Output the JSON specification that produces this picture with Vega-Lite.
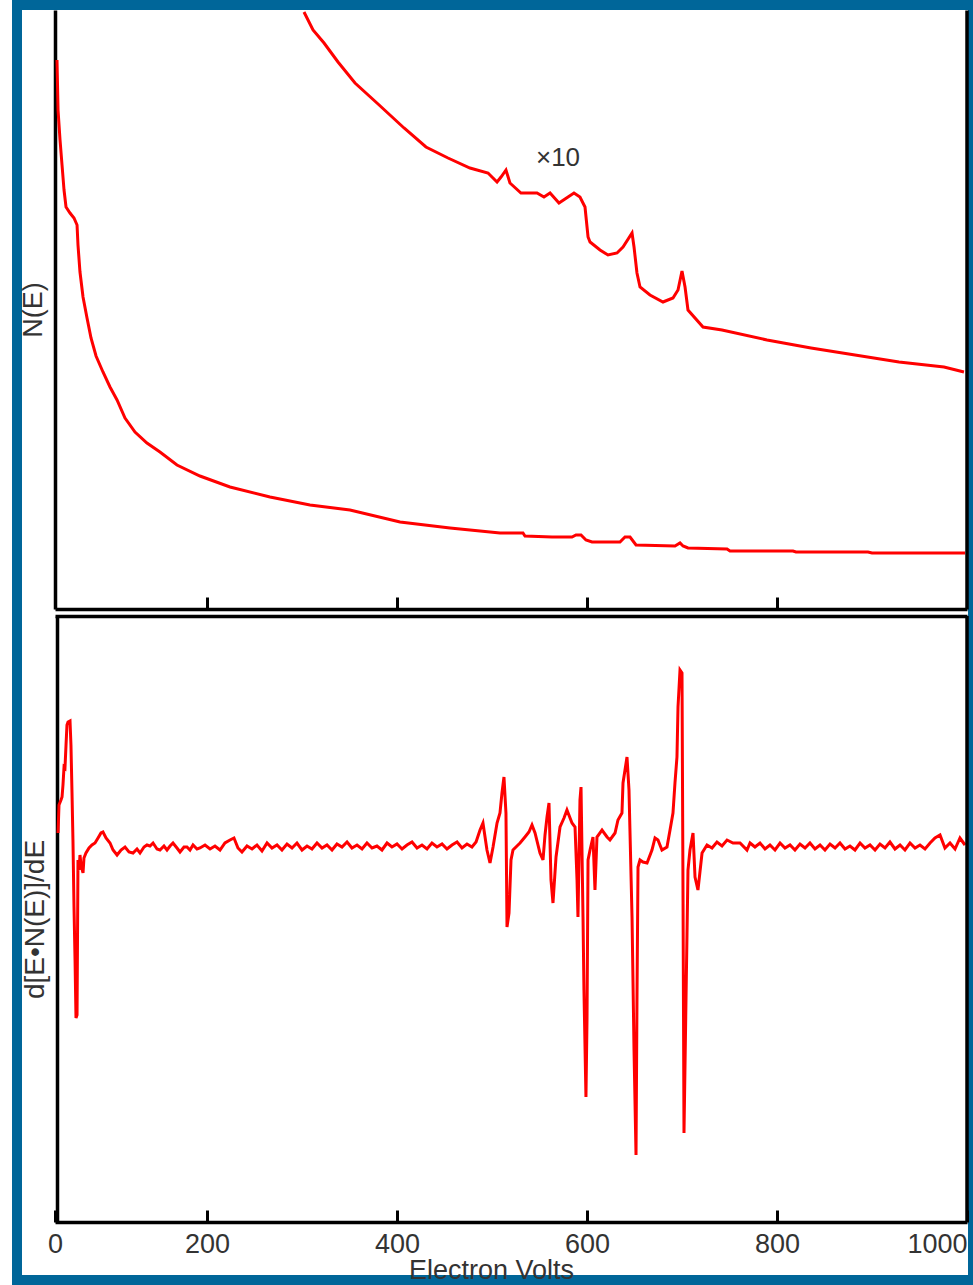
{
  "$schema": "https://vega.github.io/schema/vega-lite/v6.json",
  "width": 956,
  "height": 1275,
  "autosize": {"type": "none"},
  "padding": {"left": 17, "top": 5, "right": 0, "bottom": 5},
  "background": "white",
  "config": {
    "view": {"stroke": "#006699", "strokeWidth": 10, "fill": "white"},
    "axis": {
      "grid": false,
      "domainColor": "black",
      "domainWidth": 3.5,
      "tickColor": "black",
      "tickWidth": 3,
      "labelFont": "Liberation Sans",
      "labelFontSize": 27,
      "labelColor": "#333333",
      "titleFont": "Liberation Sans",
      "titleFontSize": 27,
      "titleColor": "#333333",
      "titleFontWeight": "normal"
    }
  },
  "datasets": {
    "ne": [
      {"e": 42.1, "n": 549}, {"e": 43.2, "n": 499}, {"e": 45.3, "n": 469}, {"e": 47.4, "n": 444},
      {"e": 49.5, "n": 419}, {"e": 51.6, "n": 402}, {"e": 55.8, "n": 396}, {"e": 60.0, "n": 391},
      {"e": 63.2, "n": 384}, {"e": 64.2, "n": 364}, {"e": 66.3, "n": 337}, {"e": 69.5, "n": 312},
      {"e": 73.7, "n": 291}, {"e": 77.9, "n": 271}, {"e": 83.2, "n": 253}, {"e": 90.5, "n": 237},
      {"e": 97.9, "n": 222}, {"e": 105.3, "n": 209}, {"e": 113.7, "n": 191}, {"e": 124.2, "n": 177},
      {"e": 136.8, "n": 166}, {"e": 150.5, "n": 157}, {"e": 168.4, "n": 144}, {"e": 192.6, "n": 133},
      {"e": 224.2, "n": 122}, {"e": 266.3, "n": 112}, {"e": 308.4, "n": 104}, {"e": 350.5, "n": 99},
      {"e": 403.2, "n": 87}, {"e": 455.8, "n": 81}, {"e": 508.4, "n": 76}, {"e": 532.6, "n": 76},
      {"e": 534.7, "n": 73}, {"e": 563.2, "n": 72}, {"e": 584.2, "n": 72}, {"e": 588.4, "n": 74},
      {"e": 593.7, "n": 74}, {"e": 598.9, "n": 69}, {"e": 605.3, "n": 67}, {"e": 634.7, "n": 67},
      {"e": 640.0, "n": 72}, {"e": 645.3, "n": 72}, {"e": 651.6, "n": 64}, {"e": 692.6, "n": 63},
      {"e": 697.9, "n": 66}, {"e": 701.1, "n": 63}, {"e": 706.3, "n": 61}, {"e": 747.4, "n": 60},
      {"e": 750.5, "n": 58}, {"e": 816.8, "n": 58}, {"e": 820.0, "n": 57}, {"e": 895.8, "n": 57},
      {"e": 900.0, "n": 56}, {"e": 997.9, "n": 56}
    ],
    "ne10": [
      {"e": 302.1, "n": 597}, {"e": 311.6, "n": 579}, {"e": 323.2, "n": 566}, {"e": 337.9, "n": 547},
      {"e": 355.8, "n": 526}, {"e": 378.9, "n": 506}, {"e": 407.4, "n": 481}, {"e": 430.5, "n": 462},
      {"e": 453.7, "n": 451}, {"e": 476.8, "n": 441}, {"e": 495.8, "n": 436}, {"e": 505.3, "n": 427},
      {"e": 509.5, "n": 432}, {"e": 514.7, "n": 439}, {"e": 518.9, "n": 426}, {"e": 530.5, "n": 416},
      {"e": 547.4, "n": 416}, {"e": 554.7, "n": 412}, {"e": 561.1, "n": 416}, {"e": 570.5, "n": 406},
      {"e": 586.3, "n": 416}, {"e": 592.6, "n": 412}, {"e": 597.9, "n": 402}, {"e": 601.1, "n": 372},
      {"e": 603.2, "n": 367}, {"e": 613.7, "n": 359}, {"e": 622.1, "n": 354}, {"e": 631.6, "n": 356},
      {"e": 637.9, "n": 362}, {"e": 647.4, "n": 376}, {"e": 649.5, "n": 362}, {"e": 652.6, "n": 336},
      {"e": 655.8, "n": 322}, {"e": 666.3, "n": 314}, {"e": 680.0, "n": 307}, {"e": 690.5, "n": 311},
      {"e": 695.8, "n": 319}, {"e": 700.0, "n": 338}, {"e": 703.2, "n": 322}, {"e": 706.3, "n": 299},
      {"e": 722.1, "n": 282}, {"e": 742.1, "n": 279}, {"e": 789.5, "n": 269}, {"e": 835.8, "n": 261},
      {"e": 882.1, "n": 254}, {"e": 928.4, "n": 247}, {"e": 975.8, "n": 242}, {"e": 996.8, "n": 237}
    ],
    "deriv": [
      {"e": 43.2, "d": 12}, {"e": 44.2, "d": 40}, {"e": 46.3, "d": 45}, {"e": 47.4, "d": 48},
      {"e": 48.4, "d": 60}, {"e": 49.5, "d": 78}, {"e": 50.5, "d": 77}, {"e": 51.6, "d": 100},
      {"e": 52.6, "d": 120}, {"e": 53.7, "d": 123}, {"e": 55.8, "d": 124}, {"e": 56.8, "d": 100},
      {"e": 57.9, "d": 52}, {"e": 58.9, "d": 5}, {"e": 60.0, "d": -62}, {"e": 61.1, "d": -115},
      {"e": 62.1, "d": -173}, {"e": 63.2, "d": -170}, {"e": 64.2, "d": -15}, {"e": 65.3, "d": -25},
      {"e": 66.3, "d": -10}, {"e": 67.4, "d": -20}, {"e": 69.5, "d": -28}, {"e": 70.5, "d": -13},
      {"e": 72.6, "d": -8}, {"e": 75.8, "d": -3}, {"e": 78.9, "d": 0}, {"e": 82.1, "d": 2},
      {"e": 85.3, "d": 7}, {"e": 88.4, "d": 12}, {"e": 90.5, "d": 13}, {"e": 93.7, "d": 7},
      {"e": 97.9, "d": 2}, {"e": 101.1, "d": -5}, {"e": 105.3, "d": -10}, {"e": 109.5, "d": -5},
      {"e": 113.7, "d": -2}, {"e": 117.9, "d": -7}, {"e": 122.1, "d": -8}, {"e": 126.3, "d": -4},
      {"e": 129.5, "d": -8}, {"e": 133.7, "d": -2}, {"e": 136.8, "d": 0}, {"e": 140.0, "d": -1},
      {"e": 143.2, "d": 2}, {"e": 147.4, "d": -4}, {"e": 150.5, "d": -5}, {"e": 154.7, "d": -1},
      {"e": 157.9, "d": -5}, {"e": 161.1, "d": -1}, {"e": 164.2, "d": 2}, {"e": 168.4, "d": -3},
      {"e": 171.6, "d": -7}, {"e": 175.8, "d": -2}, {"e": 178.9, "d": -2}, {"e": 182.1, "d": -5},
      {"e": 185.3, "d": 0}, {"e": 189.5, "d": -4}, {"e": 192.6, "d": -3}, {"e": 197.9, "d": 0},
      {"e": 203.2, "d": -4}, {"e": 208.4, "d": -1}, {"e": 213.7, "d": -5}, {"e": 218.9, "d": 2},
      {"e": 224.2, "d": 5}, {"e": 228.4, "d": 7}, {"e": 232.6, "d": -3}, {"e": 236.8, "d": -7},
      {"e": 242.1, "d": -1}, {"e": 247.4, "d": -4}, {"e": 252.6, "d": 0}, {"e": 257.9, "d": -6},
      {"e": 263.2, "d": 2}, {"e": 268.4, "d": -3}, {"e": 273.7, "d": 0}, {"e": 278.9, "d": -5},
      {"e": 284.2, "d": 1}, {"e": 289.5, "d": -3}, {"e": 294.7, "d": 2}, {"e": 300.0, "d": -5},
      {"e": 305.3, "d": -1}, {"e": 310.5, "d": -4}, {"e": 315.8, "d": 2}, {"e": 321.1, "d": -3},
      {"e": 326.3, "d": 0}, {"e": 331.6, "d": -5}, {"e": 336.8, "d": 1}, {"e": 342.1, "d": -2},
      {"e": 347.4, "d": 3}, {"e": 352.6, "d": -3}, {"e": 357.9, "d": 0}, {"e": 363.2, "d": -4},
      {"e": 368.4, "d": 2}, {"e": 373.7, "d": -3}, {"e": 378.9, "d": -1}, {"e": 384.2, "d": -5},
      {"e": 389.5, "d": 2}, {"e": 394.7, "d": -2}, {"e": 400.0, "d": 1}, {"e": 405.3, "d": -4},
      {"e": 410.5, "d": 0}, {"e": 415.8, "d": 3}, {"e": 421.1, "d": -3}, {"e": 426.3, "d": 0},
      {"e": 431.6, "d": -4}, {"e": 436.8, "d": 2}, {"e": 442.1, "d": -2}, {"e": 447.4, "d": 1},
      {"e": 452.6, "d": -4}, {"e": 457.9, "d": 0}, {"e": 463.2, "d": 3}, {"e": 468.4, "d": -3},
      {"e": 473.7, "d": 1}, {"e": 478.9, "d": -2}, {"e": 483.2, "d": 3}, {"e": 487.4, "d": 15},
      {"e": 490.5, "d": 22}, {"e": 494.7, "d": -5}, {"e": 497.9, "d": -18}, {"e": 501.1, "d": -2},
      {"e": 505.3, "d": 22}, {"e": 508.4, "d": 32}, {"e": 510.5, "d": 52}, {"e": 512.6, "d": 68},
      {"e": 514.7, "d": 32}, {"e": 515.8, "d": -82}, {"e": 517.9, "d": -68}, {"e": 520.0, "d": -15},
      {"e": 522.1, "d": -5}, {"e": 526.3, "d": -1}, {"e": 529.5, "d": 2}, {"e": 534.7, "d": 8},
      {"e": 538.9, "d": 13}, {"e": 542.1, "d": 20}, {"e": 545.3, "d": 12}, {"e": 550.5, "d": -8},
      {"e": 553.7, "d": -15}, {"e": 555.8, "d": 10}, {"e": 557.9, "d": 28}, {"e": 560.0, "d": 42},
      {"e": 562.1, "d": -35}, {"e": 564.2, "d": -58}, {"e": 567.4, "d": -12}, {"e": 571.6, "d": 18},
      {"e": 575.8, "d": 27}, {"e": 578.9, "d": 35}, {"e": 584.2, "d": 22}, {"e": 587.4, "d": 18},
      {"e": 589.5, "d": -35}, {"e": 590.5, "d": -72}, {"e": 592.6, "d": 45}, {"e": 593.7, "d": 58},
      {"e": 595.8, "d": -72}, {"e": 596.8, "d": -145}, {"e": 598.9, "d": -252}, {"e": 600.0, "d": -175},
      {"e": 601.1, "d": -15}, {"e": 603.2, "d": -5}, {"e": 606.3, "d": 8}, {"e": 608.4, "d": -45},
      {"e": 610.5, "d": 8}, {"e": 615.8, "d": 15}, {"e": 621.1, "d": 8}, {"e": 624.2, "d": 5},
      {"e": 629.5, "d": 12}, {"e": 632.6, "d": 25}, {"e": 636.8, "d": 32}, {"e": 637.9, "d": 62},
      {"e": 642.1, "d": 88}, {"e": 644.2, "d": 55}, {"e": 647.4, "d": -72}, {"e": 649.5, "d": -205},
      {"e": 651.6, "d": -310}, {"e": 652.6, "d": -155}, {"e": 653.7, "d": -22}, {"e": 655.8, "d": -15},
      {"e": 658.9, "d": -17}, {"e": 663.2, "d": -18}, {"e": 668.4, "d": -5}, {"e": 671.6, "d": 7},
      {"e": 674.7, "d": 5}, {"e": 678.9, "d": -5}, {"e": 684.2, "d": -2}, {"e": 687.4, "d": 15},
      {"e": 690.5, "d": 32}, {"e": 692.6, "d": 62}, {"e": 694.7, "d": 88}, {"e": 695.8, "d": 138},
      {"e": 697.9, "d": 175}, {"e": 700.0, "d": 172}, {"e": 701.1, "d": -55}, {"e": 702.1, "d": -288},
      {"e": 704.2, "d": -155}, {"e": 706.3, "d": -25}, {"e": 708.4, "d": -5}, {"e": 711.6, "d": 12},
      {"e": 713.7, "d": -32}, {"e": 716.8, "d": -45}, {"e": 721.1, "d": -8}, {"e": 726.3, "d": 0},
      {"e": 731.6, "d": -3}, {"e": 736.8, "d": 3}, {"e": 742.1, "d": -1}, {"e": 747.4, "d": 5},
      {"e": 753.7, "d": 2}, {"e": 761.1, "d": 2}, {"e": 768.4, "d": -5}, {"e": 771.6, "d": 2},
      {"e": 776.8, "d": -2}, {"e": 782.1, "d": 2}, {"e": 787.4, "d": -4}, {"e": 792.6, "d": 0},
      {"e": 797.9, "d": -5}, {"e": 803.2, "d": 2}, {"e": 808.4, "d": -3}, {"e": 813.7, "d": 0},
      {"e": 818.9, "d": -5}, {"e": 824.2, "d": 1}, {"e": 829.5, "d": -3}, {"e": 834.7, "d": 2},
      {"e": 840.0, "d": -4}, {"e": 845.3, "d": 0}, {"e": 850.5, "d": -5}, {"e": 855.8, "d": 1},
      {"e": 861.1, "d": -3}, {"e": 866.3, "d": 2}, {"e": 871.6, "d": -4}, {"e": 876.8, "d": -1},
      {"e": 882.1, "d": -5}, {"e": 887.4, "d": 2}, {"e": 892.6, "d": -3}, {"e": 897.9, "d": 0},
      {"e": 903.2, "d": -5}, {"e": 908.4, "d": 1}, {"e": 913.7, "d": -3}, {"e": 918.9, "d": 3},
      {"e": 924.2, "d": -4}, {"e": 929.5, "d": 0}, {"e": 934.7, "d": -5}, {"e": 940.0, "d": 2},
      {"e": 945.3, "d": -3}, {"e": 950.5, "d": 0}, {"e": 955.8, "d": -4}, {"e": 961.1, "d": 2},
      {"e": 966.3, "d": 7}, {"e": 971.6, "d": 10}, {"e": 976.8, "d": -3}, {"e": 982.1, "d": 2},
      {"e": 987.4, "d": -4}, {"e": 992.6, "d": 7}, {"e": 997.9, "d": 0}
    ]
  },
  "resolve": {
    "scale": {"y": "independent"},
    "axis": {"x": "independent", "y": "independent"}
  },
  "layer": [
    {
      "data": {"name": "ne"},
      "mark": {"type": "line", "color": "#ff0000", "strokeWidth": 3},
      "encoding": {
        "x": {
          "field": "e", "type": "quantitative",
          "scale": {"domain": [40, 1000], "range": [38, 950], "nice": false, "zero": false},
          "axis": {"orient": "bottom", "offset": -671, "values": [200, 400, 600, 800], "labels": false, "tickSize": -12, "title": null}
        },
        "y": {
          "field": "n", "type": "quantitative",
          "scale": {"domain": [0, 599], "range": [604, 5], "nice": false, "zero": false},
          "axis": {"orient": "left", "offset": -38, "ticks": false, "labels": false, "title": "N(E)", "titlePadding": 8}
        }
      }
    },
    {
      "data": {"name": "ne10"},
      "mark": {"type": "line", "color": "#ff0000", "strokeWidth": 3},
      "encoding": {
        "x": {
          "field": "e", "type": "quantitative",
          "scale": {"domain": [40, 1000], "range": [38, 950], "nice": false, "zero": false},
          "axis": {"orient": "top", "offset": -611, "ticks": false, "labels": false, "title": null}
        },
        "y": {
          "field": "n", "type": "quantitative",
          "scale": {"domain": [0, 599], "range": [604, 5], "nice": false, "zero": false},
          "axis": {"orient": "right", "offset": -6.5, "ticks": false, "labels": false, "title": null}
        }
      }
    },
    {
      "data": {"values": [{"e": 569.5, "n": 451, "t": "×10"}]},
      "mark": {"type": "text", "font": "Liberation Sans", "fontSize": 26, "color": "#333333", "align": "center", "baseline": "middle"},
      "encoding": {
        "x": {"field": "e", "type": "quantitative", "scale": {"domain": [40, 1000], "range": [38, 950], "nice": false, "zero": false}, "axis": null},
        "y": {"field": "n", "type": "quantitative", "scale": {"domain": [0, 599], "range": [604, 5], "nice": false, "zero": false}, "axis": null},
        "text": {"field": "t"}
      }
    },
    {
      "data": {"name": "deriv"},
      "mark": {"type": "line", "color": "#ff0000", "strokeWidth": 3},
      "encoding": {
        "x": {
          "field": "e", "type": "quantitative",
          "scale": {"domain": [40, 1000], "range": [38, 950], "nice": false, "zero": false},
          "axis": {
            "orient": "bottom", "offset": -58,
            "values": [40, 200, 400, 600, 800, 1000],
            "labelExpr": "datum.value < 100 ? '0' : format(datum.value, 'd')",
            "labelAlign": {"condition": {"test": "datum.value > 900", "value": "right"}, "value": "center"},
            "tickSize": -12, "labelPadding": 21,
            "title": "Electron Volts", "titleX": 474, "titleY": 56, "titleAlign": "center", "titleBaseline": "alphabetic"
          }
        },
        "y": {
          "field": "d", "type": "quantitative",
          "scale": {"domain": [-377, 229], "range": [1217, 611], "nice": false, "zero": false},
          "axis": {"orient": "left", "offset": -40, "ticks": false, "labels": false, "title": "d[E•N(E)]/dE", "titlePadding": 8, "titleFontSize": 28}
        }
      }
    },
    {
      "data": {"values": [{}]},
      "mark": {"type": "rule", "color": "black", "strokeWidth": 3.5},
      "encoding": {
        "x": {"datum": 1000, "type": "quantitative", "scale": {"domain": [40, 1000], "range": [38, 950], "nice": false, "zero": false}, "axis": null},
        "y": {"datum": -377, "type": "quantitative", "scale": {"domain": [-377, 229], "range": [1217, 611], "nice": false, "zero": false}, "axis": null},
        "y2": {"datum": 229}
      }
    }
  ]
}
